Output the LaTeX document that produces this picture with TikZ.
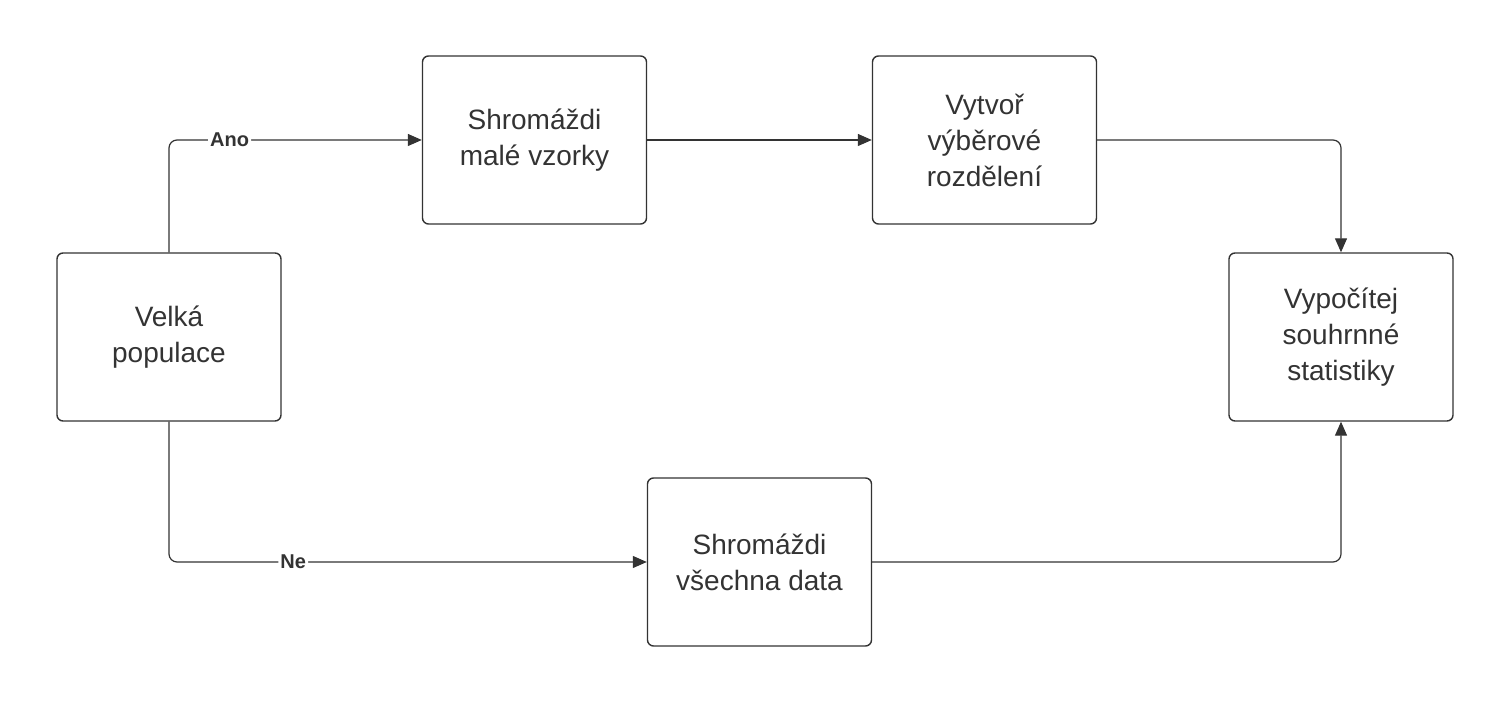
\documentclass[tikz,border=0pt]{standalone}
\usepackage{fontspec}
\setmainfont{Liberation Sans}
\usetikzlibrary{arrows.meta}
\definecolor{ln}{HTML}{333333}
\begin{document}
\begin{tikzpicture}[x=0.5pt,y=-0.5pt,
 box/.style={draw=ln,line width=0.7pt,rounded corners=3pt,minimum width=112pt,minimum height=84pt,align=center,font=\fontsize{14}{18}\selectfont,text=ln},
 con/.style={draw=ln,line width=0.6pt,rounded corners=4pt,-{Triangle[length=7pt,width=6pt]}},
 lab/.style={fill=white,inner sep=1pt,font=\bfseries\fontsize{10}{12}\selectfont,text=ln}]
\useasboundingbox (0,0) rectangle (1510,704);
\node[box] (A) at (169,337) {Velká\\populace};
\node[box] (B) at (534.5,140) {Shromáždi\\malé vzorky};
\node[box] (C) at (984.5,140) {Vytvoř\\výběrové\\rozdělení};
\node[box] (D) at (1341,337) {Vypočítej\\souhrnné\\statistiky};
\node[box] (E) at (759.5,562) {Shromáždi\\všechna data};
\draw[con] (A.north) |- (B.west) node[lab,pos=0.62] {Ano};
\draw[con] (A.south) |- (E.west) node[lab,pos=0.63] {Ne};
\draw[con] (B.east) -- (C.west);
\draw[con] (C.east) -| (D.north);
\draw[con] (E.east) -| (D.south);
\end{tikzpicture}
\end{document}
